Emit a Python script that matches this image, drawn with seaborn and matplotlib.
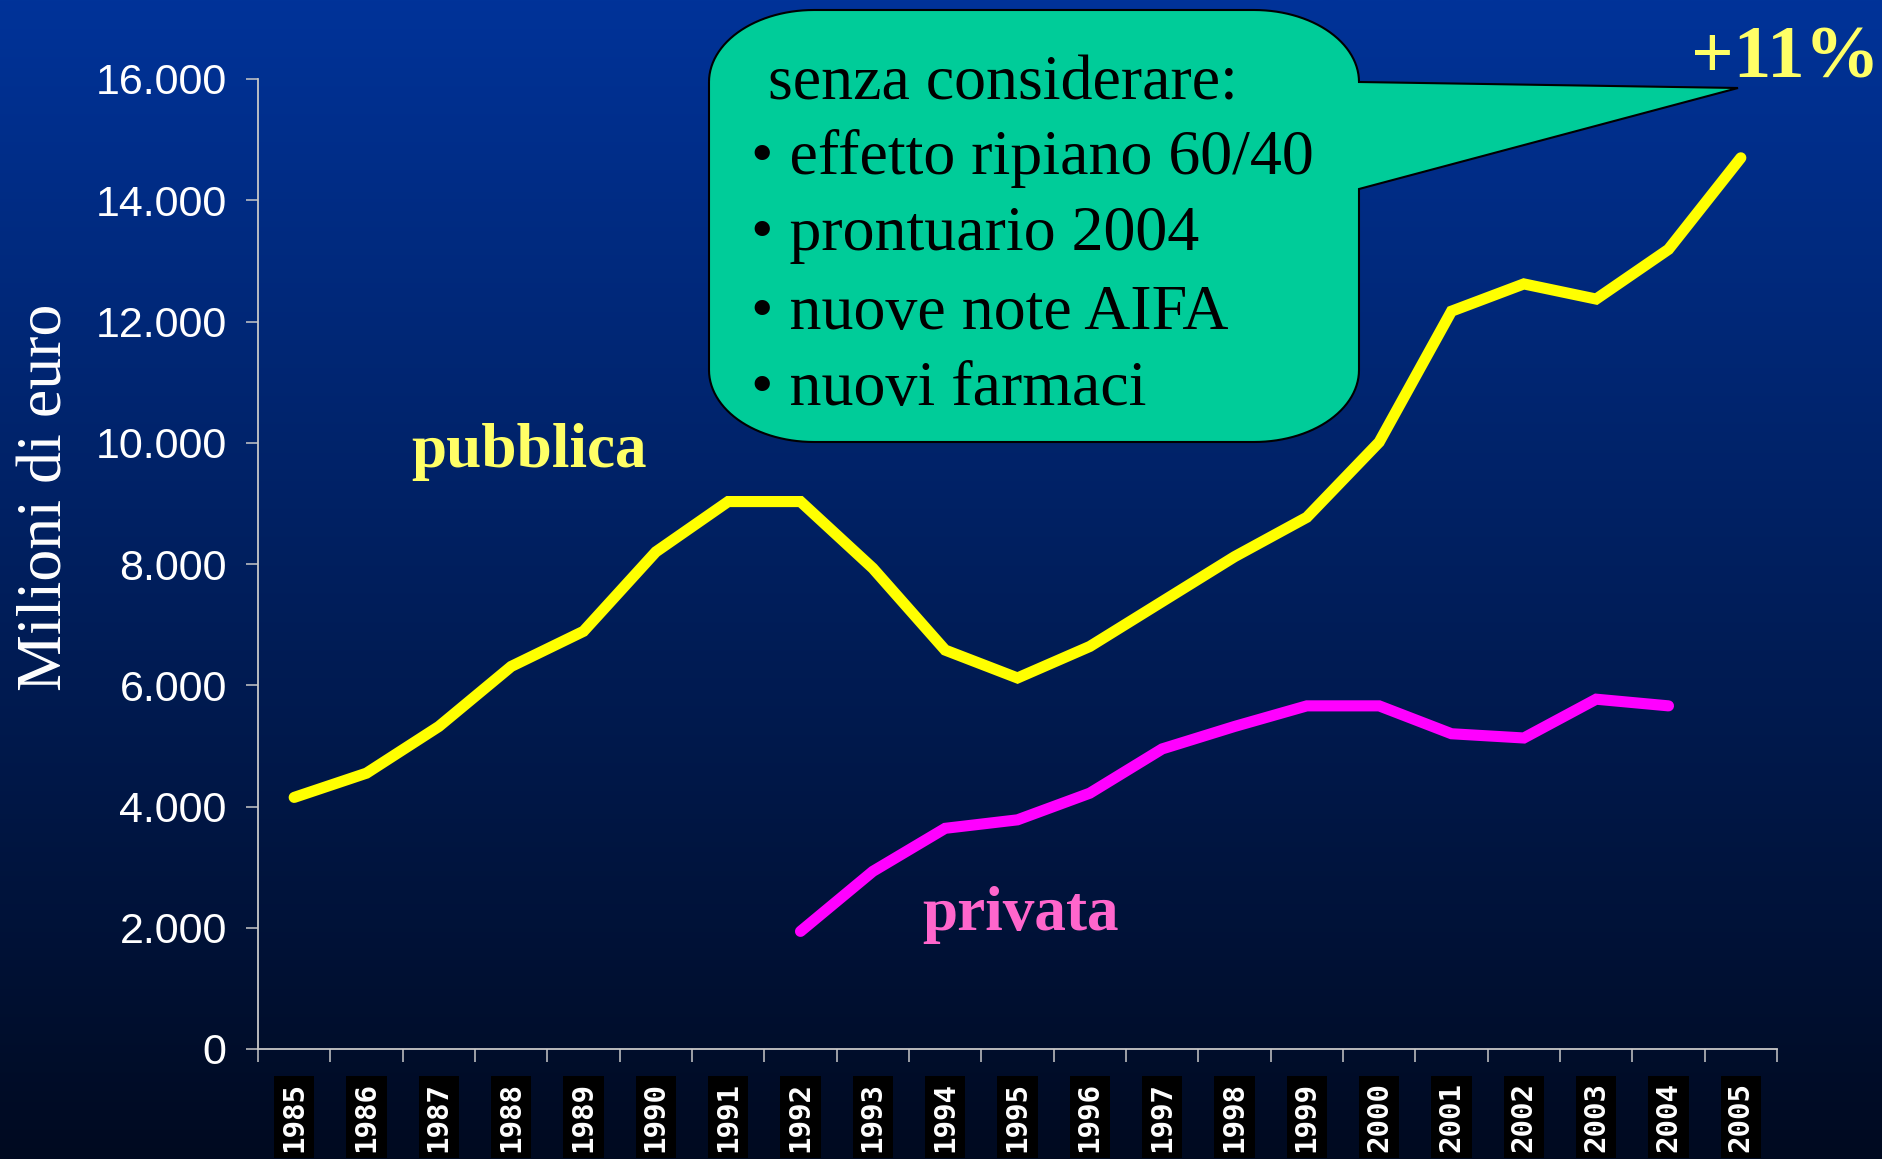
import numpy as np
import pandas as pd
import matplotlib
matplotlib.use("Agg")
import matplotlib.pyplot as plt
import seaborn as sns
from matplotlib.patches import Polygon

# ---------------- data ----------------
years = list(range(1985, 2006))
pubblica = [4150, 4550, 5320, 6310, 6890, 8200, 9030, 9030, 7930, 6580, 6120,
            6640, 7380, 8120, 8770, 10010, 12170, 12620, 12370, 13190, 14700]
years_privata = list(range(1992, 2005))
privata = [1940, 2930, 3640, 3780, 4220, 4950, 5320, 5660, 5660, 5200, 5130,
           5770, 5660]
y_ticks = [0, 2000, 4000, 6000, 8000, 10000, 12000, 14000, 16000]
y_tick_labels = ["0", "2.000", "4.000", "6.000", "8.000", "10.000", "12.000",
                 "14.000", "16.000"]
x_tick_labels = [str(y) for y in years]
callout_lines = ["senza considerare:", "\u2022 effetto ripiano 60/40",
                 "\u2022 prontuario 2004", "\u2022 nuove note AIFA",
                 "\u2022 nuovi farmaci"]

df = pd.concat([
    pd.DataFrame({"anno": years, "valore": pubblica, "serie": "pubblica"}),
    pd.DataFrame({"anno": years_privata, "valore": privata, "serie": "privata"}),
], ignore_index=True)

W, H = 1883, 1159
fig = plt.figure(figsize=(W / 100, H / 100), dpi=100)

# ---------------- background gradient ----------------
bg = fig.add_axes([0, 0, 1, 1], zorder=0)
top = np.array([0, 51, 153]) / 255
bot = np.array([0, 10, 32]) / 255
t = np.linspace(0, 1, 512)[:, None]
grad = (top[None, :] * (1 - t) + bot[None, :] * t)[:, None, :]
bg.imshow(grad, aspect="auto", extent=[0, 1, 0, 1], origin="upper")
bg.set_axis_off()

# ---------------- main axes ----------------
ax = fig.add_axes([258 / W, 1 - 1049 / H, (1777 - 258) / W, (1049 - 79) / H],
                  zorder=1)
ax.set_facecolor("none")
sns.lineplot(data=df, x="anno", y="valore", hue="serie",
             palette={"pubblica": "#FFFF00", "privata": "#FF00FF"},
             linewidth=8, legend=False, ax=ax)
for ln in ax.lines:
    ln.set_solid_capstyle("round")
    ln.set_solid_joinstyle("miter")

ax.set_xlim(years[0] - 0.5, years[-1] + 0.5)
ax.set_ylim(0, 16000)
for s in ["top", "right"]:
    ax.spines[s].set_visible(False)
for s in ["left", "bottom"]:
    ax.spines[s].set_color("#C8C8C8")
    ax.spines[s].set_linewidth(1.3)

ax.set_yticks(y_ticks)
ax.set_yticklabels(y_tick_labels, family="Liberation Sans", fontsize=31,
                   color="white")
ax.tick_params(axis="y", length=8.5, width=1.1, color="#C8C8C8", pad=14)

bounds = [y - 0.5 for y in years] + [years[-1] + 0.5]
ax.set_xticks(bounds)
ax.set_xticklabels([""] * len(bounds))
ax.tick_params(axis="x", which="major", length=9, width=1.1, color="#C8C8C8")
ax.set_xticks(years, minor=True)
ax.set_xticklabels(x_tick_labels, minor=True, rotation=90,
                   family="DejaVu Sans Mono", fontweight="bold", fontsize=21,
                   color="white")
ax.tick_params(axis="x", which="minor", length=0, pad=24)
for lbl in ax.get_xticklabels(minor=True):
    lbl.set_bbox(dict(facecolor="black", edgecolor="none", pad=4.5))

ax.set_xlabel("")
ax.set_ylabel("")

# ---------------- overlay (annotations) ----------------
ov = fig.add_axes([0, 0, 1, 1], zorder=2)
ov.set_xlim(0, W)
ov.set_ylim(H, 0)
ov.set_axis_off()
ov.patch.set_alpha(0)

ov.text(47, 497, "Milioni di euro", rotation=90, ha="center", va="center",
        family="Liberation Serif", fontsize=46, color="white")

# callout shape
L, R, T, B = 709, 1359, 10, 442
rx, ry = 105, 72
def arc(cx, cy, a0, a1, n=30):
    a = np.radians(np.linspace(a0, a1, n))
    return list(zip(cx + rx * np.cos(a), cy + ry * np.sin(a)))
pts = [(L + rx, T), (R - rx, T)]
pts += arc(R - rx, T + ry, -90, 0)
pts += [(1738, 88), (R, 189), (R, B - ry)]
pts += arc(R - rx, B - ry, 0, 90)
pts += [(L + rx, B)]
pts += arc(L + rx, B - ry, 90, 180)
pts += [(L, T + ry)]
pts += arc(L + rx, T + ry, 180, 270)
ov.add_patch(Polygon(pts, closed=True, facecolor="#00CC99",
                     edgecolor="black", linewidth=1.5))

line_y = [85, 159, 235, 314, 390]
line_x = [768, 751, 751, 751, 751]
for txt, x, y in zip(callout_lines, line_x, line_y):
    ov.text(x, y, txt, ha="left", va="center", family="Liberation Serif",
            fontsize=46, color="black")

ov.text(411, 452, "pubblica", ha="left", va="center",
        family="Liberation Serif", fontweight="bold", fontsize=45.5,
        color="#FFFF66")
ov.text(922, 915, "privata", ha="left", va="center",
        family="Liberation Serif", fontweight="bold", fontsize=45.5,
        color="#FF66CC")
ov.text(1691, 59, "+11%", ha="left", va="center",
        family="Liberation Serif", fontweight="bold", fontsize=54,
        color="#FFFF66")

fig.savefig("out.png", dpi=100)
